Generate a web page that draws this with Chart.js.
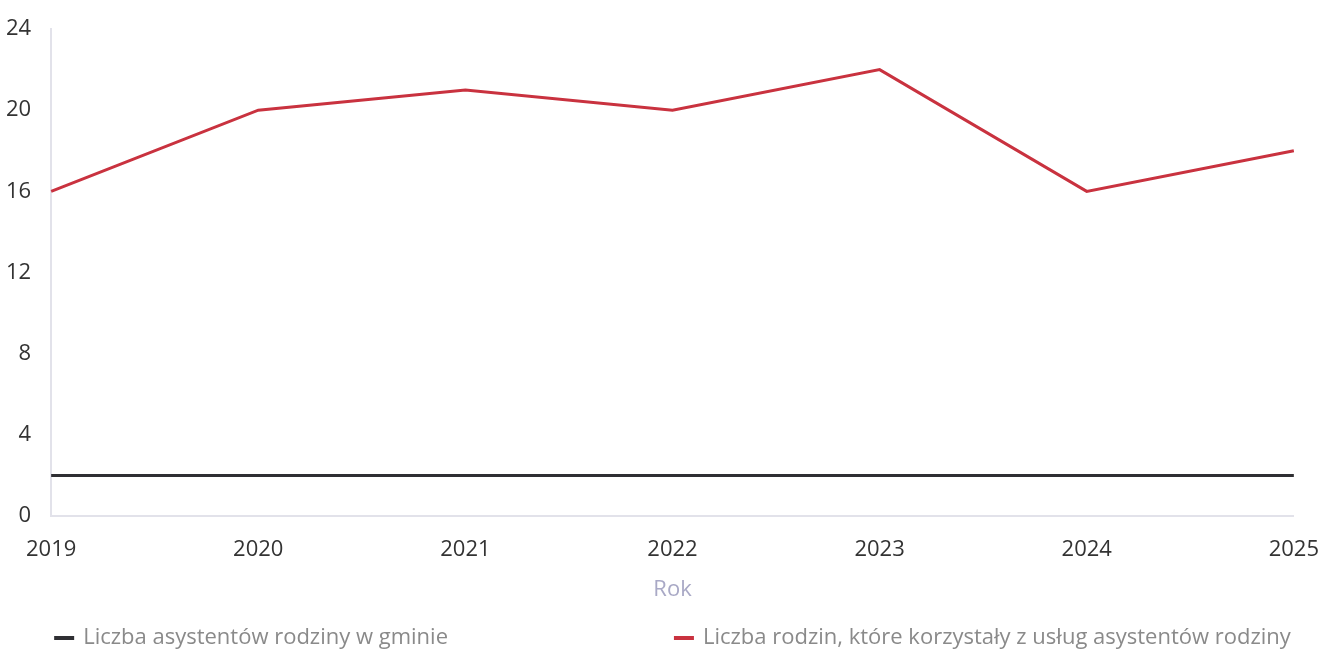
<!DOCTYPE html>
<html>
<head>
<meta charset="utf-8">
<script src="https://cdn.jsdelivr.net/npm/chart.js@4"></script>
<style>
  html, body { margin: 0; padding: 0; background: #fff; overflow: hidden; }
  #outer { width: 1320px; height: 653px; overflow: hidden; }
  #wrap { width: 1331px; height: 653px; }
</style>
</head>
<body>
<div id="outer"><div id="wrap"><canvas id="chart"></canvas></div></div>
<script>
const years = ["2019", "2020", "2021", "2022", "2023", "2024", "2025"];
const asystenci = [2, 2, 2, 2, 2, 2, 2];
const rodziny = [16, 20, 21, 20, 22, 16, 18];

const font = "'Open Sans', 'Noto Sans', sans-serif";

// legend drawn by hand: first item at the left edge of the plot, second at the right edge
const spreadLegend = {
  id: "spreadLegend",
  afterDraw(chart) {
    const ctx = chart.ctx;
    const area = chart.chartArea;
    const y = chart.height - 15;
    ctx.save();
    ctx.font = "22px " + font;
    ctx.textBaseline = "middle";
    chart.data.datasets.forEach((ds, i) => {
      const w = ctx.measureText(ds.label).width;
      const x = i === 0 ? area.left + 3 : area.right - w - 32;
      ctx.strokeStyle = ds.borderColor;
      ctx.lineWidth = 4;
      ctx.beginPath();
      ctx.moveTo(x, y);
      ctx.lineTo(x + 20, y);
      ctx.stroke();
      ctx.fillStyle = "#8a8a8a";
      ctx.fillText(ds.label, x + 29, y);
    });
    ctx.restore();
  }
};

new Chart(document.getElementById("chart"), {
  type: "line",
  data: {
    labels: years,
    datasets: [
      { label: "Liczba asystentów rodziny w gminie", data: asystenci, borderColor: "#2f2f33", backgroundColor: "#2f2f33", borderWidth: 3, pointRadius: 0, tension: 0 },
      { label: "Liczba rodzin, które korzystały z usług asystentów rodziny", data: rodziny, borderColor: "#c9323f", backgroundColor: "#c9323f", borderWidth: 3, pointRadius: 0, tension: 0 }
    ]
  },
  options: {
    responsive: true,
    maintainAspectRatio: false,
    animation: false,
    layout: { padding: { top: 29, left: -6, right: 0, bottom: 46 } },
    plugins: {
      legend: { display: false },
      tooltip: { enabled: false }
    },
    scales: {
      x: {
        offset: false,
        grid: { display: false },
        border: { display: true, color: "#e2e2ea", width: 2 },
        ticks: { color: "#333", font: { family: font, size: 22 }, padding: 12, maxRotation: 0 },
        title: { display: true, text: "Rok", color: "#a9a9c6", font: { family: font, size: 22 }, padding: { top: 2 } }
      },
      y: {
        min: 0,
        max: 24,
        grid: { display: false },
        border: { display: true, color: "#e2e2ea", width: 2 },
        ticks: { stepSize: 4, color: "#333", font: { family: font, size: 22 }, padding: 12 }
      }
    }
  },
  plugins: [spreadLegend]
});
</script>
</body>
</html>
